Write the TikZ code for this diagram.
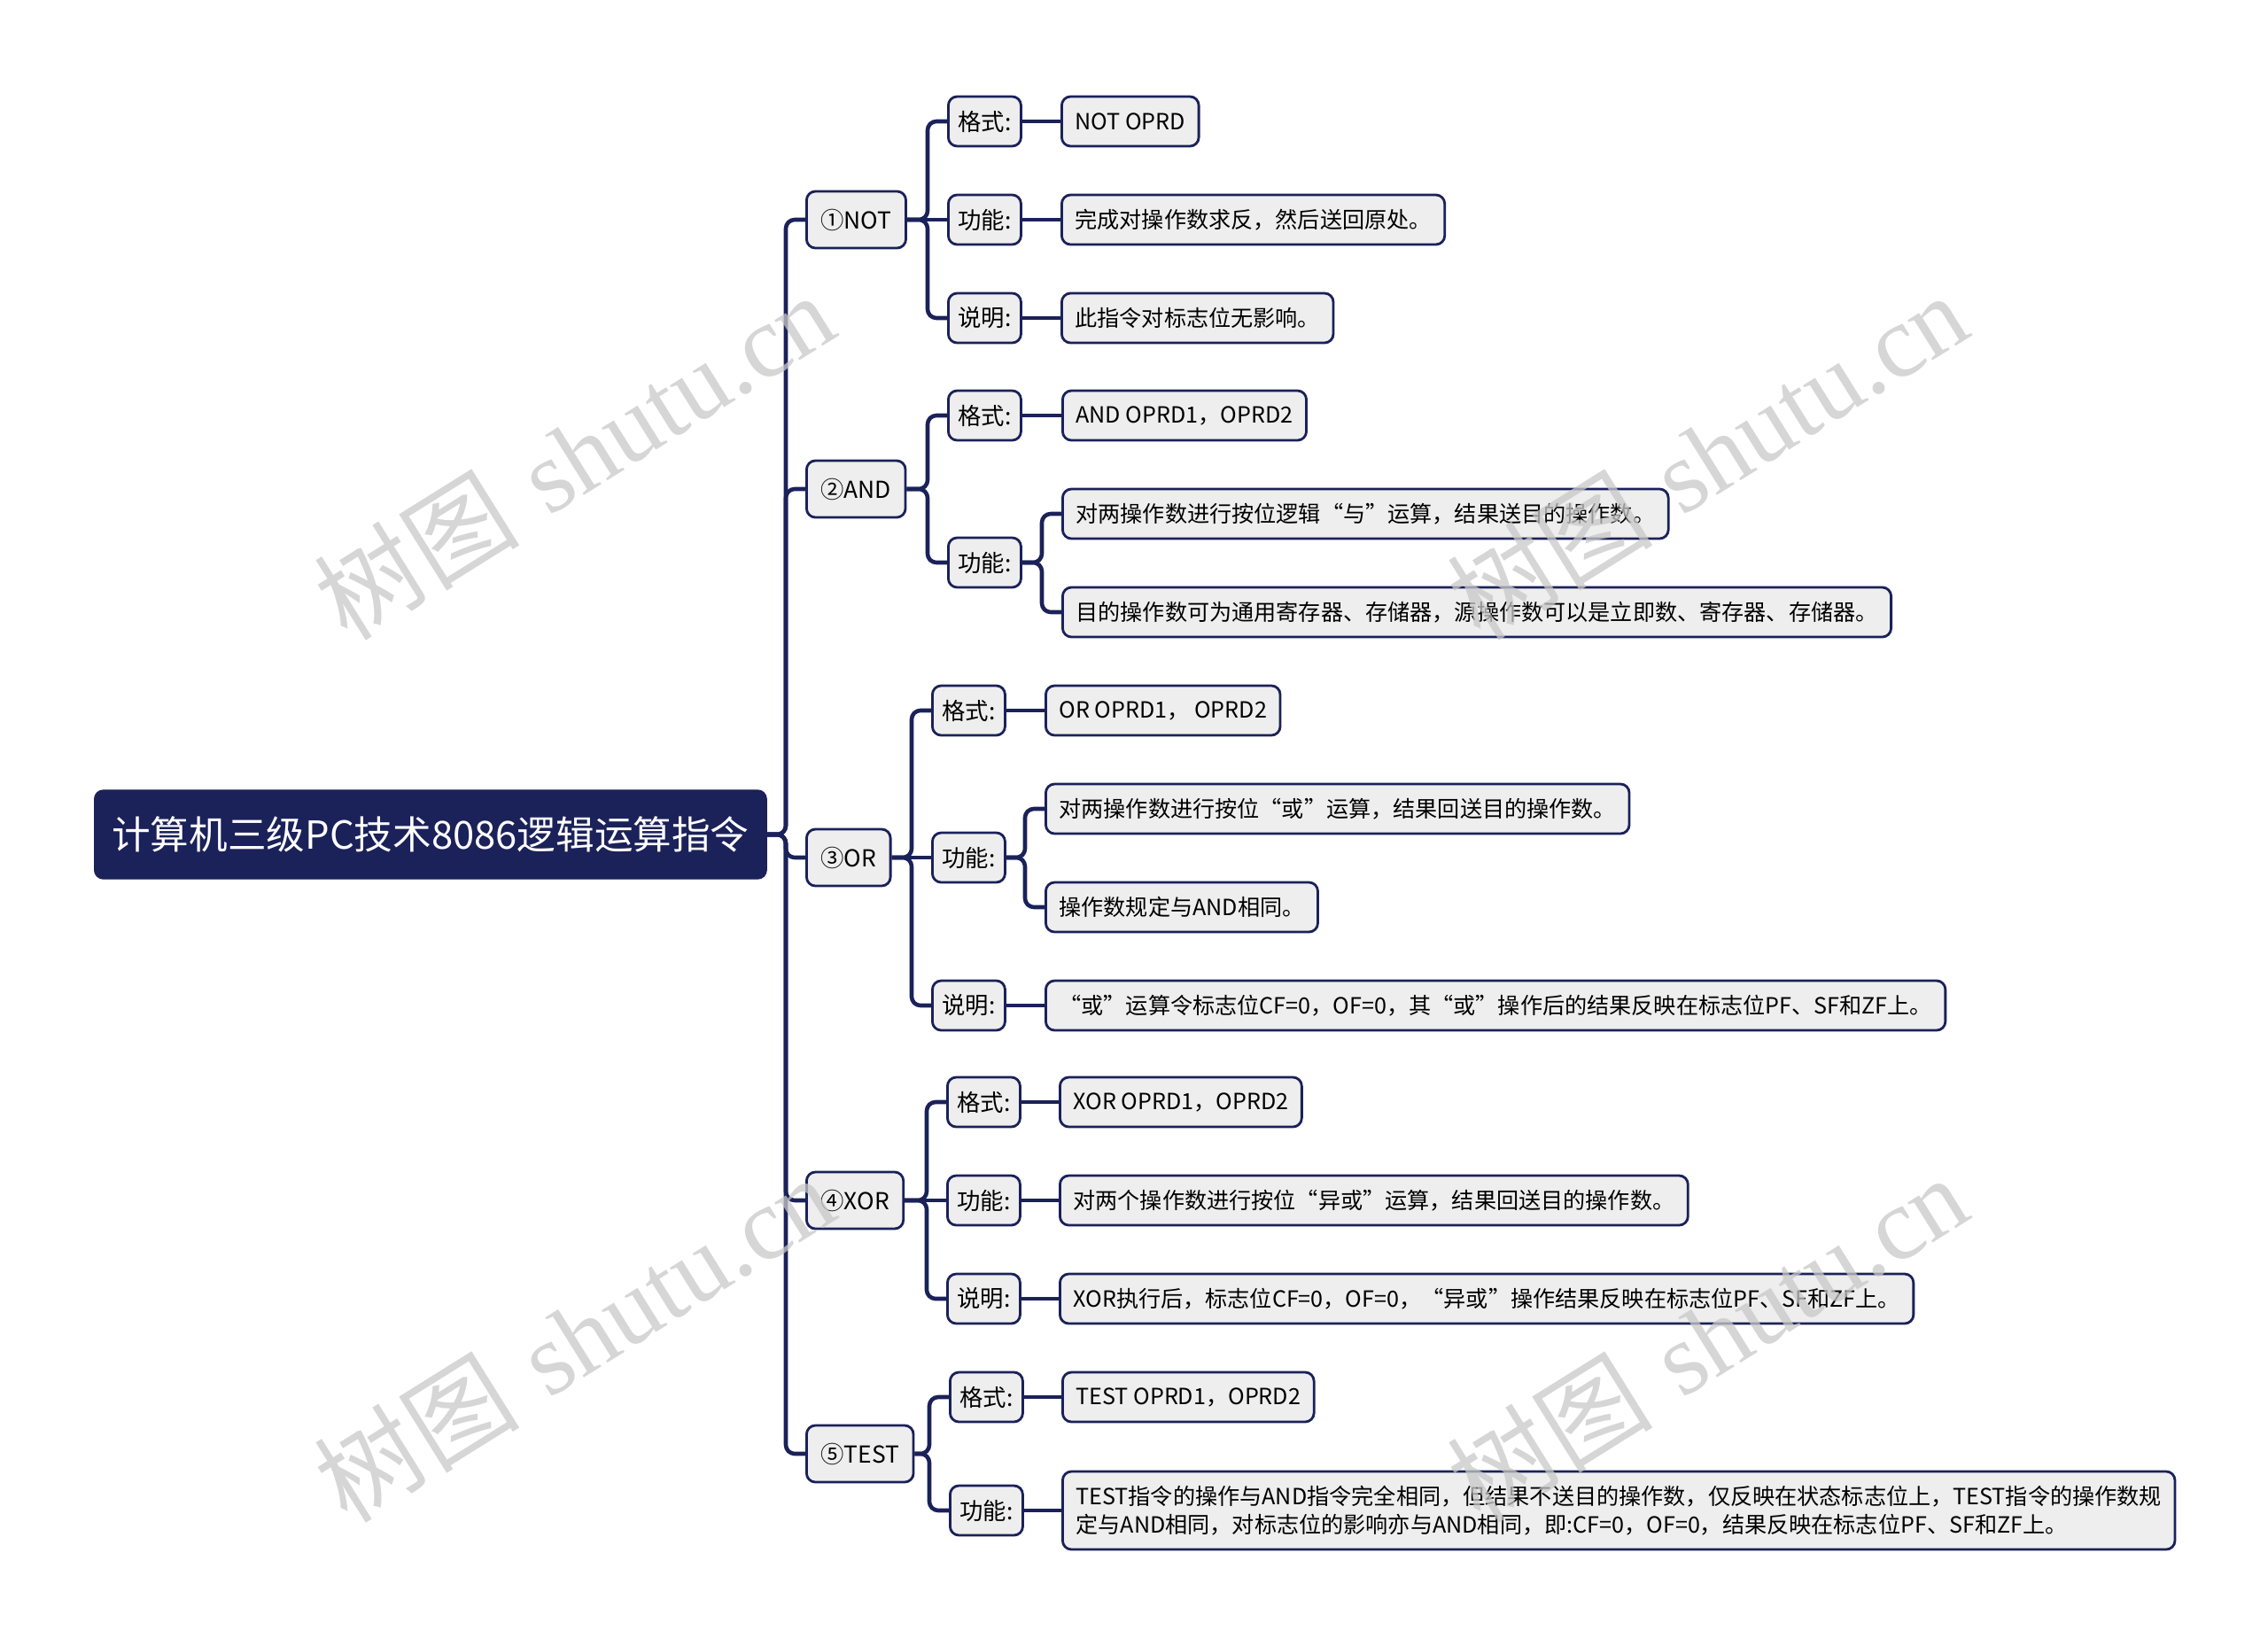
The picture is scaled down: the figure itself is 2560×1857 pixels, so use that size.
\documentclass[tikz,border=0pt]{standalone}
\usepackage{fontspec}
\usepackage{xcolor}
\newfontfamily\cjk{Noto Sans CJK SC}
\newfontfamily\wmserif{Liberation Serif}
\definecolor{navy}{HTML}{1B2159}
\definecolor{boxgrey}{HTML}{EEEEEE}
\definecolor{wmgrey}{HTML}{C8C8C8}
\tikzset{
  rootbox/.style={draw=navy,fill=navy,rounded corners=0.1cm,text=white,
    font=\cjk\fontsize{12.4}{14}\selectfont,minimum width=7.58cm,minimum height=1.0cm,anchor=west},
  topic/.style={draw=navy,fill=boxgrey,line width=0.8pt,rounded corners=0.1cm,
    font=\cjk\fontsize{7.5}{9.3}\selectfont,minimum height=0.64cm,inner xsep=0.16cm,anchor=west},
  key/.style={topic,minimum height=0.56cm,minimum width=0.82cm,inner xsep=0.1cm},
  leaf/.style={topic,font=\cjk\fontsize{7.15}{9.3}\selectfont,minimum height=0.56cm,inner xsep=0.15cm,align=left},
  link/.style={draw=navy,line width=1.3pt,rounded corners=0.1cm},
  wmtext/.style={text=wmgrey,text opacity=0.75,rotate=32,font=\fontsize{33}{37}\selectfont}
}
\begin{document}
\begin{tikzpicture}[x=0.01cm,y=-0.01cm]
\useasboundingbox (0,0) rectangle (2560,1857);
\node[rootbox] (root) at (106,942) {计算机三级PC技术8086逻辑运算指令};
% first level
\node[topic] (not) at (909,248) {①NOT};
\node[topic] (and) at (909,552) {②AND};
\node[topic] (or) at (909,968) {③OR};
\node[topic] (xor) at (909,1355) {④XOR};
\node[topic] (test) at (909,1641) {⑤TEST};
% NOT
\node[key] (notfmt) at (1069,137) {格式:};
\node[key] (notfun) at (1069,248) {功能:};
\node[key] (notrem) at (1069,359) {说明:};
\node[leaf] (notfmta) at (1197,137) {NOT OPRD};
\node[leaf] (notfuna) at (1197,248) {完成对操作数求反，然后送回原处。};
\node[leaf] (notrema) at (1197,359) {此指令对标志位无影响。};
% AND
\node[key] (andfmt) at (1069,469) {格式:};
\node[key] (andfun) at (1069,635) {功能:};
\node[leaf] (andfmta) at (1198,469) {AND OPRD1，OPRD2};
\node[leaf] (andfuna) at (1198,580) {对两操作数进行按位逻辑“与”运算，结果送目的操作数。};
\node[leaf] (andfunb) at (1198,691) {目的操作数可为通用寄存器、存储器，源操作数可以是立即数、寄存器、存储器。};
% OR
\node[key] (orfmt) at (1051,802) {格式:};
\node[key] (orfun) at (1051,968) {功能:};
\node[key] (orrem) at (1051,1135) {说明:};
\node[leaf] (orfmta) at (1179,802) {OR OPRD1， OPRD2};
\node[leaf] (orfuna) at (1179,913) {对两操作数进行按位“或”运算，结果回送目的操作数。};
\node[leaf] (orfunb) at (1179,1024) {操作数规定与AND相同。};
\node[leaf] (orrema) at (1179,1135) {“或”运算令标志位CF=0，OF=0，其“或”操作后的结果反映在标志位PF、SF和ZF上。};
% XOR
\node[key] (xorfmt) at (1068,1244) {格式:};
\node[key] (xorfun) at (1068,1355) {功能:};
\node[key] (xorrem) at (1068,1466) {说明:};
\node[leaf] (xorfmta) at (1195,1244) {XOR OPRD1，OPRD2};
\node[leaf] (xorfuna) at (1195,1355) {对两个操作数进行按位“异或”运算，结果回送目的操作数。};
\node[leaf] (xorrema) at (1195,1466) {XOR执行后，标志位CF=0，OF=0，“异或”操作结果反映在标志位PF、SF和ZF上。};
% TEST
\node[key] (testfmt) at (1071,1577) {格式:};
\node[key] (testfun) at (1071,1705) {功能:};
\node[leaf] (testfmta) at (1198,1577) {TEST OPRD1，OPRD2};
\node[leaf,minimum height=0.88cm] (testfuna) at (1198,1705) {TEST指令的操作与AND指令完全相同，但结果不送目的操作数，仅反映在状态标志位上，TEST指令的操作数规\\定与AND相同，对标志位的影响亦与AND相同，即:CF=0，OF=0，结果反映在标志位PF、SF和ZF上。};
% bent connectors
\foreach \p/\c in {root/not,root/and,root/or,root/xor,root/test,
    not/notfmt,not/notrem,and/andfmt,and/andfun,andfun/andfuna,andfun/andfunb,
    or/orfmt,or/orrem,orfun/orfuna,orfun/orfunb,
    xor/xorfmt,xor/xorrem,test/testfmt,test/testfun}
  \draw[link] (\p.east) -| ([xshift=-0.22cm]\c.west) -- (\c.west);
% straight connectors
\foreach \p/\c in {not/notfun,notfmt/notfmta,notfun/notfuna,notrem/notrema,andfmt/andfmta,
    or/orfun,orfmt/orfmta,orrem/orrema,xor/xorfun,xorfmt/xorfmta,xorfun/xorfuna,xorrem/xorrema,
    testfmt/testfmta,testfun/testfuna}
  \draw[link] (\p.east) -- (\c.west);
% watermark
\foreach \wx/\wy in {648/514,1927/514,648/1510,1927/1510}
  \node[wmtext] at (\wx,\wy) {{\cjk 树图} {\wmserif shutu.cn}};
\end{tikzpicture}
\end{document}
